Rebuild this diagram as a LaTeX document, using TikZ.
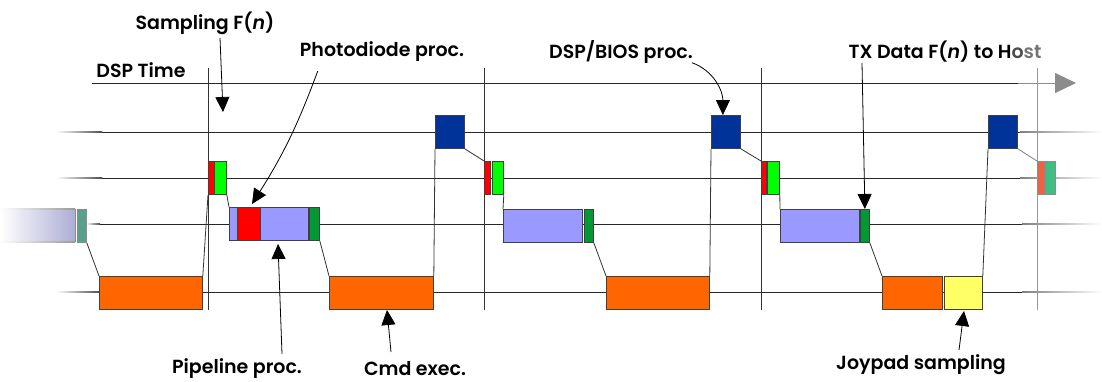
\documentclass[tikz,border=0pt]{standalone}
\usepackage{fontspec}
\setmainfont{Poppins SemiBold}
\usepackage{tikz}
\usetikzlibrary{arrows.meta}

\definecolor{cmdorange}{HTML}{FF6600}
\definecolor{pipeblue}{HTML}{9999FF}
\definecolor{pipefade}{HTML}{ADADD6}
\definecolor{photored}{HTML}{FF0000}
\definecolor{sampgreen}{HTML}{00FF00}
\definecolor{txgreen}{HTML}{009933}
\definecolor{biosblue}{HTML}{003399}
\definecolor{joyyellow}{HTML}{FFFF66}
\definecolor{tealbox}{HTML}{5A9E8C}
\definecolor{fadered}{HTML}{EE6244}
\definecolor{fadegreen}{HTML}{3CBF80}

\tikzset{
	task/.style={draw=black!75, line width=0.8pt, inner sep=0pt, anchor=north west, minimum height=33},
	row/.style={black!85, line width=0.8pt},
	fadeL/.style={left color=white, right color=black!70},
	fadeR/.style={left color=black!50, right color=white},
	tick/.style={black!80, line width=0.8pt},
	lbl/.style={font=\fontsize{19}{22}\selectfont, inner sep=1pt},
	callout/.style={black, line width=0.8pt, -{Triangle[length=15, width=14]}},
}

\begin{document}
\begin{tikzpicture}[x=1pt, y=-1pt]
	\useasboundingbox (0,0) rectangle (1102,381);

	% time axis
	\coordinate (t0) at (92,83);
	\coordinate (t1) at (1018,83);
	\coordinate (t2) at (1076,83);
	\draw[black!85, line width=0.9pt] (t0) -- (t1);
	\draw[black!45, line width=0.9pt, -{Triangle[length=21, width=20]}] (t1) -- (t2);

	% task rows
	\foreach \y in {132,178} {
		\shade[fadeL] (56,\y-0.5) rectangle (102,\y+0.5);
		\draw[row] (102,\y) -- (1020,\y);
		\shade[fadeR] (1020,\y-0.5) rectangle (1102,\y+0.5);
	}
	\shade[fadeL] (86,223.5) rectangle (100,224.5);
	\draw[row] (100,224) -- (1022,224);
	\shade[fadeR] (1022,223.5) rectangle (1102,224.5);
	\shade[fadeL] (56,291.5) rectangle (100,292.5);
	\draw[row] (100,292) -- (1022,292);
	\shade[fadeR] (1022,291.5) rectangle (1102,292.5);

	% frame boundaries
	\foreach \x in {208,484,761}
		\draw[tick] (\x,68) -- (\x,310);
	\draw[black!40, line width=0.8pt] (1037,68) -- (1037,310);

	% previous frame
	\node[inner sep=0pt, anchor=north west, minimum width=75, minimum height=33, left color=white, right color=pipefade] (pipeZ) at (0,209) {};
	\shade[left color=white, right color=black!40] (0,208.6) rectangle (75,209.4);
	\shade[left color=white, right color=black!40] (0,241.6) rectangle (75,242.4);
	\draw[black!45, line width=0.8pt] (pipeZ.north east) -- (pipeZ.south east);
	\node[task, draw=black!45, fill=tealbox, minimum width=9] (txZ) at (77,209) {};

	% frame 1
	\node[task, fill=cmdorange, minimum width=103] (cmdA) at (99,276) {};
	\node[task, fill=photored, minimum width=6] (redA) at (208,161) {};
	\node[task, fill=sampgreen, minimum width=12] (greenA) at (214,161) {};
	\node[task, fill=pipeblue, minimum width=79] (pipeA) at (229,207) {};
	\node[task, fill=photored, minimum width=23] (redP) at (237,207) {};
	\node[task, fill=txgreen, minimum width=10] (txA) at (309,207) {};
	\node[task, fill=cmdorange, minimum width=104] (cmdB) at (329,276) {};
	\node[task, fill=biosblue, minimum width=29] (biosA) at (435,115) {};

	% frame 2
	\node[task, fill=photored, minimum width=6] (redB) at (484,161) {};
	\node[task, fill=sampgreen, minimum width=11] (greenB) at (492,161) {};
	\node[task, fill=pipeblue, minimum width=79] (pipeB) at (503,209) {};
	\node[task, fill=txgreen, minimum width=9] (txB) at (584,209) {};
	\node[task, fill=cmdorange, minimum width=103] (cmdC) at (606,276) {};
	\node[task, fill=biosblue, minimum width=29] (biosB) at (711,115) {};

	% frame 3
	\node[task, fill=photored, minimum width=5] (redC) at (761,161) {};
	\node[task, fill=sampgreen, minimum width=12] (greenC) at (767,161) {};
	\node[task, fill=pipeblue, minimum width=79] (pipeC) at (780,209) {};
	\node[task, fill=txgreen, minimum width=9] (txC) at (860,209) {};
	\node[task, fill=cmdorange, minimum width=60] (cmdD) at (882,276) {};
	\node[task, fill=joyyellow, minimum width=38] (joy) at (944,276) {};
	\node[task, fill=biosblue, minimum width=29] (biosC) at (988,115) {};

	% next frame
	\node[task, draw=black!45, fill=fadered, minimum width=7] (redD) at (1037,161) {};
	\node[task, draw=black!45, fill=fadegreen, minimum width=10] (greenD) at (1045,161) {};

	% task switches
	\draw[tick] (txZ.south east) -- (cmdA.north west);
	\draw[tick] (cmdA.north east) -- (redA.south west);
	\draw[tick] (greenA.south east) -- (pipeA.north west);
	\draw[tick] (txA.south east) -- (cmdB.north west);
	\draw[tick] (cmdB.north east) -- (biosA.south west);
	\draw[tick] (biosA.south east) -- (redB.north west);
	\draw[tick] (greenB.south east) -- (pipeB.north west);
	\draw[tick] (txB.south east) -- (cmdC.north west);
	\draw[tick] (cmdC.north east) -- (biosB.south west);
	\draw[tick] (biosB.south east) -- (redC.north west);
	\draw[tick] (greenC.south east) -- (pipeC.north west);
	\draw[tick] (txC.south east) -- (cmdD.north west);
	\draw[tick] (joy.north east) -- (biosC.south west);
	\draw[black!50, line width=0.8pt] (biosC.south east) -- (redD.north west);

	% labels
	\node[lbl] (timeLbl) at (141,70) {DSP Time};
	\node[lbl] (sampLbl) at (205,23) {Sampling F(\textit{n})};
	\node[lbl] (photoLbl) at (382,52) {Photodiode proc.};
	\node[lbl] (biosLbl) at (621,52) {DSP/BIOS proc.};
	\node[lbl] (txLbl) at (945,52) {TX Data F(\textit{n}) to H\textcolor{black!70}{o}\textcolor{black!55}{st}};
	\node[lbl] (pipeLbl) at (237,369) {Pipeline proc.};
	\node[lbl] (cmdLbl) at (415,369) {Cmd exec.};
	\node[lbl] (joyLbl) at (921,365) {Joypad sampling};

	% callouts
	\coordinate (sampTip) at (223,112);
	\coordinate (photoTip) at (252,204);
	\coordinate (pipeTip) at (278,244);
	\coordinate (cmdTip) at (387,310);
	\coordinate (joyTip) at (964,311);
	\draw[callout] (220,38) -- (sampTip);
	\draw[callout] (photoLbl.south west) ++(19,8) to[bend left=6] (photoTip);
	\draw[callout] (biosLbl.south east) ++(-2,-2) to[out=-20, in=90] ([xshift=-3]biosB.north);
	\draw[callout] (862,63) -- (txC.north);
	\draw[callout] (282,354) -- (pipeTip);
	\draw[callout] (391,352) -- (cmdTip);
	\draw[callout] (959,350) -- (joyTip);
\end{tikzpicture}
\end{document}
